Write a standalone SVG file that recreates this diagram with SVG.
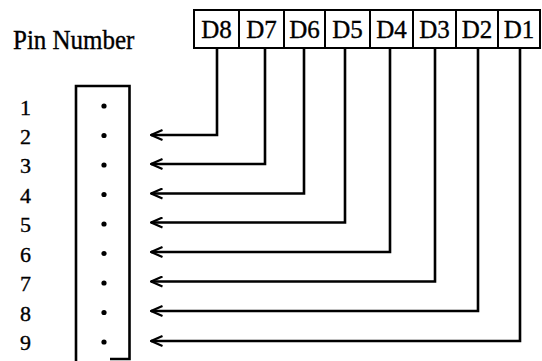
<svg xmlns="http://www.w3.org/2000/svg" width="542" height="361" viewBox="0 0 542 361">
<style>
text{font-family:"Liberation Serif","Times New Roman",serif;fill:#000;stroke:#000;stroke-width:0.35}
.lbl{font-size:25px;text-anchor:middle}
.pin{font-size:22px}
.box{fill:#fff;stroke:#000;stroke-width:2}
.wire{fill:none;stroke:#000;stroke-width:2.6}
</style>
<defs>
<marker id="ah" viewBox="0 0 14 12" refX="12.5" refY="6" markerWidth="14" markerHeight="12" markerUnits="userSpaceOnUse" orient="auto">
<path d="M1,1 L12.5,6 L1,11" fill="none" stroke="#000" stroke-width="2.2"/>
</marker>
</defs>
<rect width="542" height="361" fill="#fff"/>
<text x="13" y="49" transform="translate(0,49) scale(1,1.08) translate(0,-49)" style="font-size:25px">Pin Number</text>
<g id="header">
<g id="D8"><rect class="box" x="194" y="10" width="45" height="38"/><text class="lbl" x="216.5" y="37.5">D8</text></g>
<g id="D7"><rect class="box" x="239" y="10" width="45" height="38"/><text class="lbl" x="261.5" y="37.5">D7</text></g>
<g id="D6"><rect class="box" x="284" y="10" width="41" height="38"/><text class="lbl" x="304.5" y="37.5">D6</text></g>
<g id="D5"><rect class="box" x="325" y="10" width="45" height="38"/><text class="lbl" x="347.5" y="37.5">D5</text></g>
<g id="D4"><rect class="box" x="370" y="10" width="43" height="38"/><text class="lbl" x="391.5" y="37.5">D4</text></g>
<g id="D3"><rect class="box" x="413" y="10" width="43" height="38"/><text class="lbl" x="434.5" y="37.5">D3</text></g>
<g id="D2"><rect class="box" x="456" y="10" width="42" height="38"/><text class="lbl" x="477" y="37.5">D2</text></g>
<g id="D1"><rect class="box" x="498" y="10" width="42" height="38"/><text class="lbl" x="519" y="37.5">D1</text></g>
</g>
<g id="connector">
<path d="M76,361 V86 H129.5 V359 H110" fill="none" stroke="#000" stroke-width="2.6"/>
<g fill="#000">
<circle cx="104" cy="106" r="2.6"/>
<circle cx="104" cy="135.5" r="2.6"/>
<circle cx="104" cy="165" r="2.6"/>
<circle cx="104" cy="194.5" r="2.6"/>
<circle cx="104" cy="224" r="2.6"/>
<circle cx="104" cy="253.5" r="2.6"/>
<circle cx="104" cy="283" r="2.6"/>
<circle cx="104" cy="312.5" r="2.6"/>
<circle cx="104" cy="342" r="2.6"/>
</g>
<g class="pin">
<text x="20" y="114.5">1</text>
<text x="20" y="143.5">2</text>
<text x="20" y="173">3</text>
<text x="20" y="202.5">4</text>
<text x="20" y="232">5</text>
<text x="20" y="261.5">6</text>
<text x="20" y="291">7</text>
<text x="20" y="320.5">8</text>
<text x="20" y="350">9</text>
</g>
</g>
<g id="connectors">
<path class="wire" marker-end="url(#ah)" d="M217,48 V135 H151"/>
<path class="wire" marker-end="url(#ah)" d="M265,48 V164 H151"/>
<path class="wire" marker-end="url(#ah)" d="M304,48 V193.5 H151"/>
<path class="wire" marker-end="url(#ah)" d="M345,48 V222.5 H151"/>
<path class="wire" marker-end="url(#ah)" d="M390,48 V252 H151"/>
<path class="wire" marker-end="url(#ah)" d="M435,48 V281.5 H151"/>
<path class="wire" marker-end="url(#ah)" d="M478,48 V311 H151"/>
<path class="wire" marker-end="url(#ah)" d="M520,48 V341 H151"/>
</g>
</svg>
